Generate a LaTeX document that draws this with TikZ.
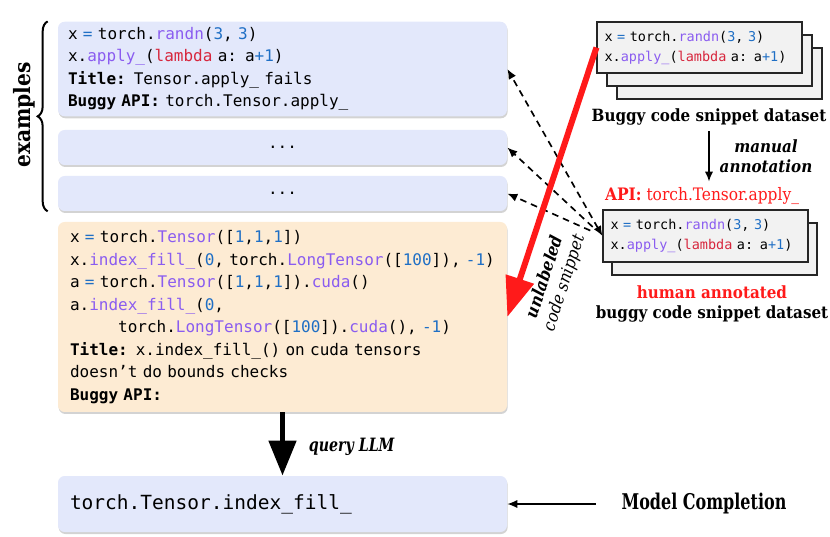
\documentclass[tikz,border=0pt]{standalone}
\usepackage{fontspec}
\usepackage{graphicx}
\setmainfont{DejaVu Serif Condensed}
\setmonofont{DejaVu Sans Mono}
\usetikzlibrary{arrows.meta,shadows,decorations.pathreplacing}
\definecolor{exblue}{HTML}{E3E8FB}
\definecolor{qpeach}{HTML}{FDEBD3}
\definecolor{snipgray}{HTML}{F2F2F2}
\definecolor{cnumc}{HTML}{1F6FC5}
\definecolor{cfunc}{HTML}{8A5CF0}
\definecolor{ckeyc}{HTML}{D7263D}
\definecolor{hred}{HTML}{FF1A1A}
\newcommand{\cnum}[1]{\textcolor{cnumc}{#1}}
\newcommand{\cfun}[1]{\textcolor{cfunc}{#1}}
\newcommand{\ckey}[1]{\textcolor{ckeyc}{#1}}

\begin{document}
\begin{tikzpicture}[x=0.6pt,y=0.6pt,
 example/.style={rectangle,rounded corners=4pt,fill=exblue,text width=257.4pt,inner xsep=6pt,align=left,
   drop shadow={shadow xshift=0.4pt,shadow yshift=-1.2pt,opacity=0.35},font=\ttfamily\fontsize{9.6}{13.5}\selectfont},
 dots/.style={example,minimum height=21pt,align=center},
 query/.style={example,fill=qpeach,text width=255pt,inner xsep=7.2pt,minimum height=114pt},
 snippet/.style={draw=black!85,line width=0.7pt,fill=snipgray,rectangle,text width=114pt,inner xsep=4.5pt,
   minimum height=30.6pt,align=left,font=\ttfamily\fontsize{8.1}{12}\selectfont},
 caption/.style={font=\bfseries\fontsize{10.1}{12}\selectfont,align=center},
 flow/.style={-{Latex[length=6pt,width=5pt]},black,line width=0.9pt},
 dasharrow/.style={-{Latex[length=6pt,width=5pt]},black,line width=1pt,dash pattern=on 4pt off 3pt},
 bigarrow/.style={-{Triangle[length=21pt,width=16pt]},black,line width=3.4pt},
 unlab/.style={-{Triangle[length=24pt,width=17pt]},hred,line width=3.6pt}]
\useasboundingbox (0,0) rectangle (830,536);
\node[example] (ex1) at (282.5,467) {x \cnum{=} torch.\cfun{randn}(\cnum{3}, \cnum{3})\\
x.\cfun{apply\_}(\ckey{lambda} a: a\cnum{+1})\\
\textbf{Title:} Tensor.apply\_ fails\\
\textbf{Buggy API:} torch.Tensor.apply\_};
\node[dots] (ex2) at (282.5,388.5) {...};
\node[dots] (ex3) at (282.5,342.5) {...};
\node[query] (qry) at (282.5,219) {x \cnum{=} torch.\cfun{Tensor}([\cnum{1},\cnum{1},\cnum{1}])\\
x.\cfun{index\_fill\_}(\cnum{0}, torch.\cfun{LongTensor}([\cnum{100}]), \cnum{-1})\\
a \cnum{=} torch.\cfun{Tensor}([\cnum{1},\cnum{1},\cnum{1}]).\cfun{cuda}()\\
a.\cfun{index\_fill\_}(\cnum{0},\\
\hphantom{xxxxx}torch.\cfun{LongTensor}([\cnum{100}]).\cfun{cuda}(), \cnum{-1})\\
\textbf{Title:} x.index\_fill\_() on cuda tensors\\
doesn’t do bounds checks\\
\textbf{Buggy API:}};
\node[example,font=\ttfamily\fontsize{11.7}{14}\selectfont,inner xsep=7.2pt,text width=255pt,minimum height=33.6pt] (out) at (282.5,32) {torch.Tensor.index\_fill\_};
\draw[decorate,decoration={brace,amplitude=6pt},line width=1.2pt] ([xshift=-6pt]ex3.south west) -- ([xshift=-6pt]ex1.north west);
\node[rotate=90,font=\bfseries\fontsize{13.5}{15}\selectfont] (exlab) at (24,421) {examples};
\draw[bigarrow] (qry.south) -- (out.north);
\node[anchor=west,font=\bfseries\itshape\fontsize{11}{12}\selectfont] (qlab) at (303,89) {\scalebox{0.86}[1]{query LLM}};
\node[font=\bfseries\fontsize{13}{14}\selectfont] (mc) at (704,32) {\scalebox{0.82}[1]{Model Completion}};
\draw[flow] ([xshift=-12pt]mc.west) -- (out.east);
\node[snippet] (ds3) at (719.5,462.5) {};
\node[snippet] (ds2) at (709.5,475.5) {};
\node[snippet] (ds1) at (699.5,488.5) {x \cnum{=} torch.\cfun{randn}(\cnum{3}, \cnum{3})\\
x.\cfun{apply\_}(\ckey{lambda} a: a\cnum{+1})};
\node[caption] (dslab) at (709,419) {Buggy code snippet dataset};
\node[caption,font=\bfseries\itshape\fontsize{10.1}{12}\selectfont] (manual) at (766,380) {manual\\annotation};
\node[caption,text=hred,font=\fontsize{10.3}{12}\selectfont] (api) at (702,340) {\textbf{API:} torch.Tensor.apply\_};
\draw[flow] (dslab.south) -- (dslab.south |- api.north);
\node[snippet,minimum height=31.2pt] (hm2) at (714.5,287) {};
\node[snippet,minimum height=31.2pt] (hm1) at (705.5,300) {x \cnum{=} torch.\cfun{randn}(\cnum{3}, \cnum{3})\\
x.\cfun{apply\_}(\ckey{lambda} a: a\cnum{+1})};
\node[caption] (hmlab) at (712,232) {\textcolor{hred}{human annotated}\\buggy code snippet dataset};
\draw[dasharrow,{Latex[length=6pt,width=5pt]}-{Latex[length=6pt,width=5pt]}] (hm1.west) -- (ex1.east);
\draw[dasharrow,shorten <=8pt] (hm1.west) -- (ex2.east);
\draw[dasharrow,shorten <=8pt] (hm1.west) -- (ex3.east);
\draw[unlab] (ds1.west) -- (qry.east);
\node[rotate=72,align=center,font=\itshape\fontsize{10.3}{12}\selectfont] (ulab) at (555,256) {\textbf{unlabeled}\\code snippet};
\end{tikzpicture}
\end{document}
